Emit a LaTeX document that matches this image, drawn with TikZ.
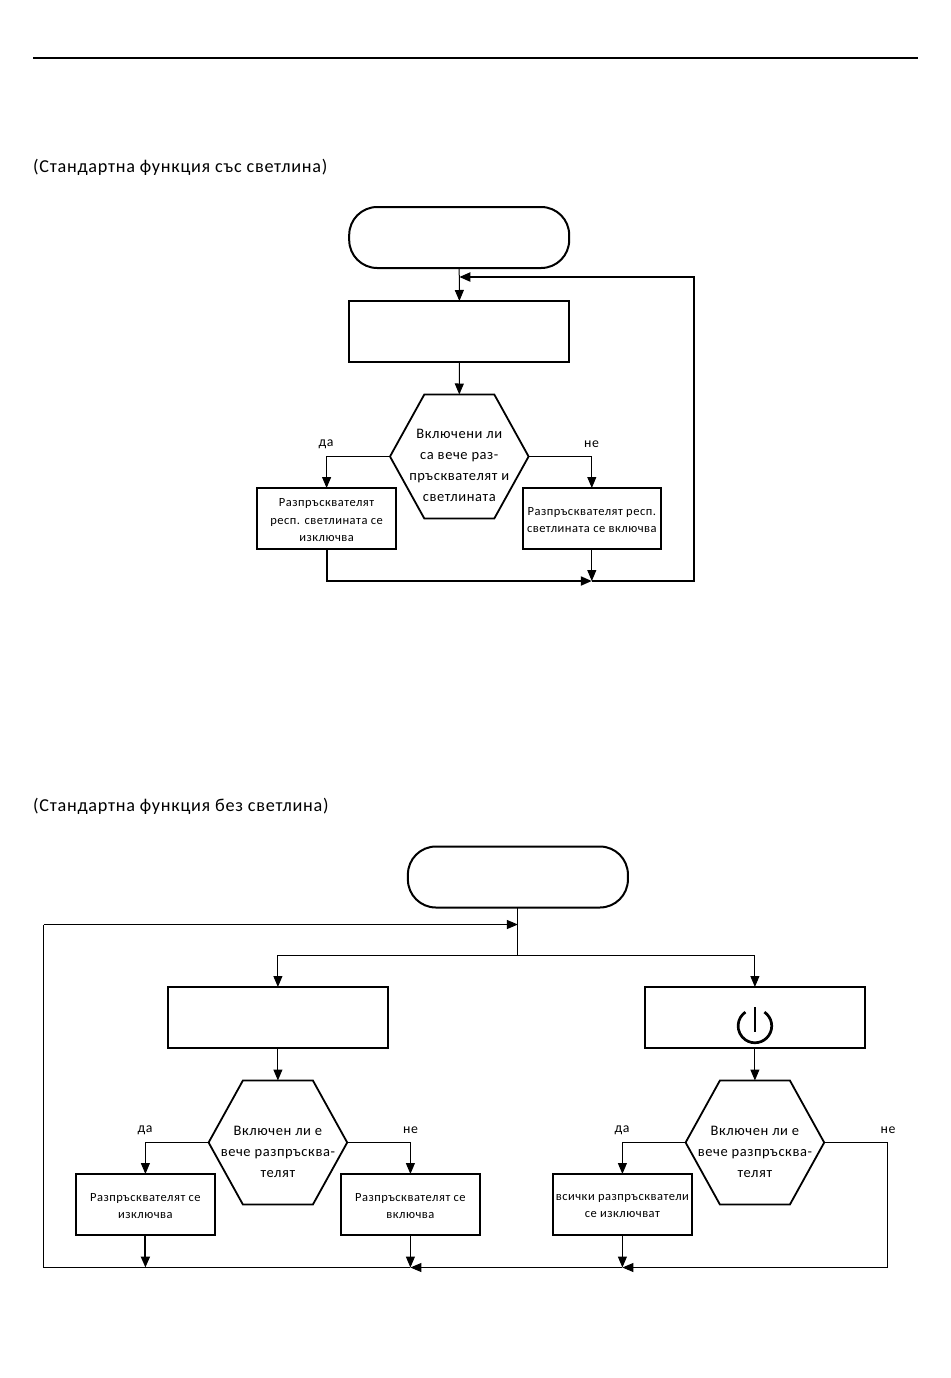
\documentclass[tikz,border=0pt]{standalone}
\usepackage{fontspec}
\setmainfont{Carlito}[LetterSpace=4]
\usetikzlibrary{arrows.meta,calc}
\tikzset{
  x=1pt,y=-1pt,
  tip/.style={-{Triangle[length=11pt,width=9pt]}},
  thin link/.style={draw=black,line width=1pt,tip},
  thick link/.style={draw=black,line width=2pt,tip},
  plain link/.style={draw=black,line width=1pt},
  startbox/.style={draw=black,line width=2pt,rounded corners=28pt,minimum width=220pt,minimum height=61pt,outer sep=0pt,inner sep=0pt},
  bigbox/.style={draw=black,line width=2pt,minimum width=220pt,minimum height=61pt,outer sep=0pt,inner sep=0pt},
  smallbox/.style={draw=black,line width=2pt,minimum width=138.6pt,minimum height=61pt,outer sep=0pt,inner sep=0pt},
  boxtext/.style={align=center,inner sep=0pt,yshift=-1.7pt,font=\fontsize{12.5}{17.3}\selectfont},
  hexbase/.style={minimum width=138.6pt,minimum height=124pt,outer sep=0pt,inner sep=0pt},
  hextext/.style={align=center,inner sep=0pt,yshift=-9pt,font=\fontsize{14.5}{21}\selectfont},
  caption/.style={anchor=west,inner sep=0pt,font=\fontsize{18.2}{22}\selectfont},
  answer/.style={inner sep=0pt,font=\fontsize{13.8}{16}\selectfont},
}
\newcommand{\hexoutline}[1]{\draw[line width=1.8pt,line join=miter]
  (#1.west) -- ($(#1.north)+(-35,0)$) -- ($(#1.north)+(35,0)$) -- (#1.east)
  -- ($(#1.south)+(35,0)$) -- ($(#1.south)+(-35,0)$) -- cycle;}
\begin{document}
\begin{tikzpicture}
\useasboundingbox (0,0) rectangle (950,1378);
\fill[white] (0,0) rectangle (950,1378);
\coordinate (ruleL) at (33,58); \coordinate (ruleR) at (918,58);
\draw[line width=2pt] (ruleL) -- (ruleR);
\node[caption] (capA) at (33,167) {(Стандартна функция със светлина)};
\node[caption] (capB) at (33,806) {(Стандартна функция без светлина)};

% upper chart
\node[startbox] (s1) at (459.2,237.5) {};
\node[bigbox] (r1) at (459.4,331.5) {};
\node[hexbase,label={[hextext]center:{Включени ли\\са вече раз-\\пръсквателят и\\светлината}}] (h1) at (459.3,456.5) {};
\hexoutline{h1}
\node[smallbox,label={[boxtext]center:{Разпръсквателят\\респ. светлината се\\изключва}}] (a1) at (326.6,518.5) {};
\node[smallbox,label={[boxtext]center:{Разпръсквателят респ.\\светлината се включва}}] (b1) at (591.8,518.5) {};
\node[answer] (y1) at (326,444.5) {да};
\node[answer] (n1) at (591.5,444.5) {не};
\coordinate (j1) at (591.8,581);
\coordinate (k1) at (694,581);
\coordinate (k2) at (694,277);
\coordinate (k3) at (459.3,277);
\draw[thin link] (s1.south) -- (r1.north);
\draw[thin link] (r1.south) -- (h1.north);
\draw[thin link] (h1.west) -| (a1.north);
\draw[thin link] (h1.east) -| (b1.north);
\draw[thick link] (a1.south) |- (j1);
\draw[thin link] (b1.south) -- (j1);
\draw[thick link] (j1) -- (k1) -- (k2) -- (k3);

% lower chart
\node[startbox] (s2) at (517.9,877) {};
\node[bigbox] (r2) at (277.9,1017.5) {};
\node[bigbox] (r3) at (754.9,1017.5) {};
\node[hexbase,label={[hextext]center:{Включен ли е\\вече разпръсква-\\телят}}] (h2) at (277.9,1142.5) {};
\node[hexbase,label={[hextext]center:{Включен ли е\\вече разпръсква-\\телят}}] (h3) at (754.9,1142.5) {};
\hexoutline{h2}
\hexoutline{h3}
\node[smallbox,label={[boxtext]center:{Разпръсквателят се\\изключва}}] (a2) at (145.4,1204.5) {};
\node[smallbox,label={[boxtext]center:{Разпръсквателят се\\включва}}] (b2) at (410.4,1204.5) {};
\node[smallbox,label={[boxtext]center:{всички разпръскватели\\се изключват}}] (a3) at (622.4,1204.5) {};
\node[answer] (y2) at (145,1130) {да};
\node[answer] (n2) at (410.5,1130) {не};
\node[answer] (y3) at (622,1130) {да};
\node[answer] (n3) at (888,1130) {не};
\coordinate (j2) at (517.9,955);
\coordinate (j3) at (517.9,924.5);
\coordinate (c1) at (43.5,924.5);
\coordinate (c2) at (43.5,1267.5);
\coordinate (c3) at (887.6,1267.5);
\coordinate (t1) at (145.4,1267.5);
\coordinate (t2) at (410.4,1267.5);
\coordinate (t3) at (622.4,1267.5);
\draw[plain link] (s2.south) -- (j2);
\draw[thin link] (j2) -| (r2.north);
\draw[thin link] (j2) -| (r3.north);
\draw[thin link] (r2.south) -- (h2.north);
\draw[thin link] (r3.south) -- (h3.north);
\draw[thin link] (h2.west) -| (a2.north);
\draw[thin link] (h2.east) -| (b2.north);
\draw[thin link] (h3.west) -| (a3.north);
\draw[plain link] (h3.east) -| (c3);
\draw[thick link] (a2.south) -- (t1);
\draw[thin link] (b2.south) -- (t2);
\draw[thin link] (a3.south) -- (t3);
\draw[plain link] (t2) -- (c2) -- (c1);
\draw[thin link] (c1) -- (j3);
\draw[thin link] (c3) -- (t3);
\draw[thin link] (t3) -- (t2);

% power symbol
\coordinate (pw) at (754.9,1026);
\draw[line width=2.7pt] ($(pw)+(0,-19)$) -- ($(pw)+(0,6)$);
\draw[line width=2.7pt] ($(pw)+(9.5,-13.9)$) arc[start angle=55.6,end angle=-235.6,radius=16.8pt];
\end{tikzpicture}
\end{document}
